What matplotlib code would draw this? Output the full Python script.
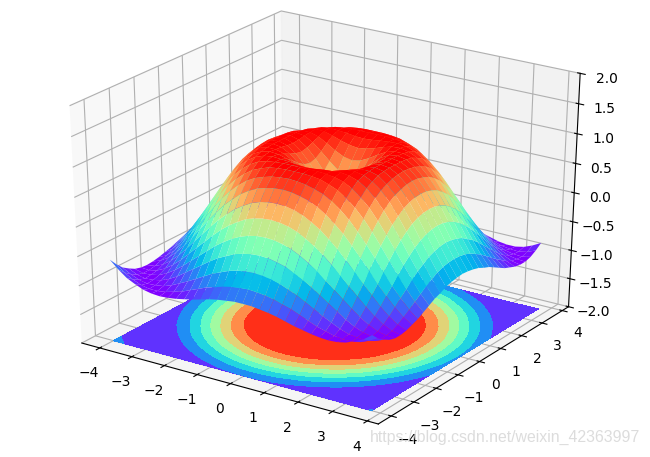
import numpy as np
import matplotlib
matplotlib.use("Agg")
import matplotlib.pyplot as plt

# surface height read per grid step away from the centre, upper triangle of one quadrant
HEIGHT_ROWS = [
    [0.00, 0.25, 0.48, 0.68, 0.84, 0.95, 1.00, 0.98, 0.91, 0.78, 0.60, 0.38, 0.14, -0.11, -0.35, -0.57, -0.76],
    [0.35, 0.53, 0.71, 0.86, 0.96, 1.00, 0.98, 0.90, 0.77, 0.59, 0.37, 0.13, -0.12, -0.36, -0.58, -0.76],
    [0.65, 0.78, 0.90, 0.98, 1.00, 0.97, 0.88, 0.74, 0.56, 0.34, 0.10, -0.15, -0.38, -0.60, -0.78],
    [0.87, 0.95, 0.99, 0.99, 0.95, 0.84, 0.70, 0.51, 0.29, 0.05, -0.19, -0.42, -0.63, -0.80],
    [0.99, 1.00, 0.97, 0.90, 0.79, 0.63, 0.43, 0.21, -0.02, -0.26, -0.48, -0.68, -0.83],
    [0.98, 0.93, 0.84, 0.71, 0.54, 0.34, 0.12, -0.11, -0.33, -0.54, -0.72, -0.87],
    [0.85, 0.74, 0.60, 0.42, 0.22, 0.01, -0.21, -0.42, -0.62, -0.78, -0.91],
    [0.62, 0.47, 0.29, 0.09, -0.12, -0.33, -0.52, -0.70, -0.84, -0.94],
    [0.31, 0.13, -0.06, -0.26, -0.45, -0.62, -0.78, -0.90, -0.97],
    [-0.04, -0.22, -0.40, -0.57, -0.72, -0.85, -0.94, -0.99],
    [-0.38, -0.54, -0.69, -0.82, -0.92, -0.98, -1.00],
    [-0.68, -0.80, -0.90, -0.97, -1.00, -0.99],
    [-0.89, -0.96, -0.99, -1.00, -0.96],
    [-0.99, -1.00, -0.97, -0.90],
    [-0.97, -0.91, -0.83],
    [-0.83, -0.72],
    [-0.59],
]
GRID_START = -4
GRID_STEP = 0.25
GRID_COUNT = 32
Z_FLOOR = -2
Z_TOP = 2

quadrant = np.zeros((17, 17))
for i, row in enumerate(HEIGHT_ROWS):
    for j, value in enumerate(row):
        quadrant[i, i + j] = value
        quadrant[i + j, i] = value

steps = np.arange(GRID_COUNT)
coords = GRID_START + GRID_STEP * steps
X, Y = np.meshgrid(coords, coords)
offsets = np.abs(steps - 16)
Z = quadrant[np.ix_(offsets, offsets)]

fig = plt.figure(figsize=(6.5, 4.57), dpi=100)
ax = fig.add_axes([-13 / 650, -7 / 457, 664 / 650, 495 / 457], projection="3d")
ax.set_box_aspect((1, 1, 1), zoom=0.909)
# old style stretched projection, fills the whole panel
ax.apply_aspect = lambda position=None: None
ax.view_init(elev=28.5, azim=-56)

ax.plot_surface(X, Y, Z, rstride=1, cstride=1, cmap="rainbow")
ax.contourf(X, Y, Z, zdir="z", offset=Z_FLOOR, cmap="rainbow")
ax.set_zlim(Z_FLOOR, Z_TOP)

for axis in (ax.xaxis, ax.yaxis, ax.zaxis):
    axis.pane.set_edgecolor("#f2f2f2")

fig.text(0.985, 0.026, "https://blog.csdn.net/weixin_42363997", ha="right", va="bottom",
         fontsize=11.4, family="Liberation Sans", color="#d4d4d4", alpha=0.8)

fig.savefig("out.png", dpi=100)
